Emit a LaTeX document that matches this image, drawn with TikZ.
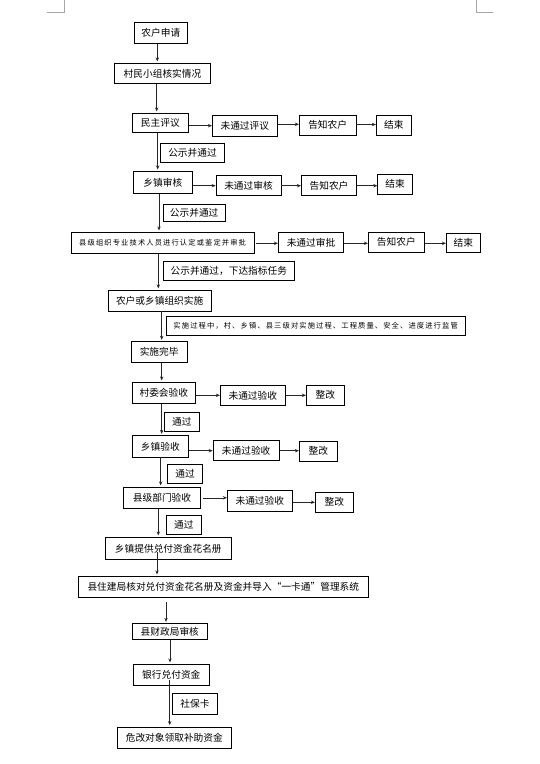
\documentclass[tikz,border=0pt]{standalone}
\usepackage{fontspec}
\newfontfamily\cjk{Noto Sans CJK SC}
\newfontfamily\cjks[LetterSpace=15]{Noto Sans CJK SC}
\usetikzlibrary{arrows.meta}
\begin{document}
\begin{tikzpicture}[x=1pt,y=-1pt,
  box/.style={draw=black, line width=0.8pt, inner sep=0pt, anchor=center,
    font=\cjk\fontsize{9.7}{11}\selectfont},
  smalltext/.style={font=\cjks\fontsize{7.3}{8}\selectfont},
  arr/.style={draw=black!85, line width=0.6pt, -{Stealth[length=4pt,width=3.4pt]}},
  varr/.style={arr, shorten >=1.5pt},
  cornermark/.style={draw=black!35, line width=0.6pt}
]
\useasboundingbox (0,0) rectangle (540,764);
\fill[white] (0,0) rectangle (540,764);

% corner marks
\coordinate (tlA) at (64.3,0);
\coordinate (tlB) at (64.3,12.3);
\coordinate (tlC) at (46.7,12.3);
\coordinate (trA) at (476.7,0);
\coordinate (trB) at (476.7,12.3);
\coordinate (trC) at (492.7,12.3);
\draw[cornermark] (tlA) -- (tlB) -- (tlC);
\draw[cornermark] (trA) -- (trB) -- (trC);

% main column
\node[box, minimum width=53pt, minimum height=20.6pt] (n1) at (160.8,33) {农户申请};
\node[box, minimum width=96.4pt, minimum height=20pt] (n2) at (162.5,73.3) {村民小组核实情况};
\node[box, minimum width=56pt, minimum height=19pt] (n3) at (160.3,122.8) {民主评议};
\node[box, minimum width=65pt, minimum height=20.3pt] (n3a) at (244.8,125.85) {未通过评议};
\node[box, minimum width=56.7pt, minimum height=19.7pt] (n3b) at (327.65,125.15) {告知农户};
\node[box, minimum width=35pt, minimum height=19.7pt] (n3c) at (393.8,125.15) {结束};
\node[box, minimum width=63.6pt, minimum height=19pt] (l1) at (192.5,152.8) {公示并通过};

\node[box, minimum width=59pt, minimum height=22pt] (n4) at (162.8,182.3) {乡镇审核};
\node[box, minimum width=65pt, minimum height=20pt] (n4a) at (248.5,185.7) {未通过审核};
\node[box, minimum width=55.4pt, minimum height=20pt] (n4b) at (329,185.7) {告知农户};
\node[box, minimum width=34.6pt, minimum height=19.7pt] (n4c) at (395,184.15) {结束};
\node[box, minimum width=62.3pt, minimum height=17.4pt] (l2) at (194.15,213) {公示并通过};

\node[box, smalltext, minimum width=183.3pt, minimum height=21pt] (n5) at (162.65,242.8) {县级组织专业技术人员进行认定或鉴定并审批};
\node[box, minimum width=65.4pt, minimum height=20pt] (n5a) at (311,242.3) {未通过审批};
\node[box, minimum width=56pt, minimum height=19.7pt] (n5b) at (396.3,242.15) {告知农户};
\node[box, minimum width=34pt, minimum height=19pt] (n5c) at (463.3,242.8) {结束};
\node[box, minimum width=131pt, minimum height=19.4pt] (l3) at (228.8,271) {公示并通过，下达指标任务};

\node[box, minimum width=102.7pt, minimum height=20.7pt] (n6) at (159.65,300.65) {农户或乡镇组织实施};
\node[box, smalltext, minimum width=299.3pt, minimum height=19pt] (l4) at (315.65,325.5) {实施过程中，村、乡镇、县三级对实施过程、工程质量、安全、进度进行监管};

\node[box, minimum width=56.3pt, minimum height=20.6pt] (n7) at (159.15,352) {实施完毕};

\node[box, minimum width=63pt, minimum height=21pt] (n8) at (163.8,392.8) {村委会验收};
\node[box, minimum width=65pt, minimum height=20pt] (n8a) at (252.8,395.3) {未通过验收};
\node[box, minimum width=38pt, minimum height=20pt] (n8b) at (325.3,395.3) {整改};
\node[box, minimum width=35pt, minimum height=18.7pt] (l5) at (181.8,421.65) {通过};

\node[box, minimum width=56pt, minimum height=21.3pt] (n9) at (160.3,446.35) {乡镇验收};
\node[box, minimum width=66.3pt, minimum height=20pt] (n9a) at (246.15,450.3) {未通过验收};
\node[box, minimum width=38pt, minimum height=20pt] (n9b) at (318.3,451) {整改};
\node[box, minimum width=35.4pt, minimum height=19pt] (l6) at (185,473.8) {通过};

\node[box, minimum width=77.4pt, minimum height=21pt] (n10) at (162,497.8) {县级部门验收};
\node[box, minimum width=65pt, minimum height=21pt] (n10a) at (259.8,500.8) {未通过验收};
\node[box, minimum width=38pt, minimum height=20pt] (n10b) at (334.3,502.3) {整改};
\node[box, minimum width=35pt, minimum height=19pt] (l7) at (183.8,524.8) {通过};

\node[box, minimum width=126pt, minimum height=22pt] (n11) at (168.3,548.3) {乡镇提供兑付资金花名册};
\node[box, minimum width=290pt, minimum height=21pt] (n12) at (223.3,586.8) {县住建局核对兑付资金花名册及资金并导入“一卡通”管理系统};
\node[box, minimum width=75pt, minimum height=15.6pt] (n13) at (169.8,631.5) {县财政局审核};
\node[box, minimum width=76pt, minimum height=21pt] (n14) at (171.3,674.8) {银行兑付资金};
\node[box, minimum width=44.6pt, minimum height=21pt] (l8) at (195,703.8) {社保卡};
\node[box, minimum width=114pt, minimum height=21pt] (n15) at (174.3,737.5) {危改对象领取补助资金};

% vertical arrows
\draw[varr] ([xshift=-3.5pt]n1.south) -- ([xshift=-3.5pt]n1.south |- n2.north);
\draw[varr] ([xshift=-5.8pt]n2.south) -- ([xshift=-5.8pt]n2.south |- n3.north);
\draw[varr] ([xshift=-2.6pt]n3.south) -- ([xshift=-2.6pt]n3.south |- n4.north);
\draw[varr] ([xshift=-3.8pt]n4.south) -- ([xshift=-3.8pt]n4.south |- n5.north);
\draw[varr] ([xshift=-4.35pt]n5.south) -- ([xshift=-4.35pt]n5.south |- n6.north);
\draw[varr] ([xshift=2.05pt]n6.south) -- ([xshift=2.05pt]n6.south |- n7.north);
\draw[varr] ([xshift=2.55pt]n7.south) -- ([xshift=2.55pt]n7.south |- n8.north);
\draw[varr] ([xshift=-2.1pt]n8.south) -- ([xshift=-2.1pt]n8.south |- n9.north);
\draw[varr] ([xshift=0.4pt]n9.south) -- ([xshift=0.4pt]n9.south |- n10.north);
\draw[varr] ([xshift=-3.7pt]n10.south) -- ([xshift=-3.7pt]n10.south |- n11.north);
\draw[varr] ([xshift=-11.3pt,yshift=7.6pt]n11.south) -- ([xshift=-11.3pt]n11.south |- n12.north);
\draw[varr] ([xshift=-57.3pt,yshift=-4.4pt]n12.south) -- ([xshift=-57.3pt]n12.south |- n13.north);
\draw[varr] ([xshift=0.2pt]n13.south) -- ([xshift=0.2pt]n13.south |- n14.north);
\draw[varr] ([xshift=-1.6pt,yshift=5.3pt]n14.south) -- ([xshift=-1.6pt]n14.south |- n15.north);

% horizontal arrows
\draw[arr] ([yshift=-2.9pt]n3.east) -- ([yshift=-2.9pt]n3.east -| n3a.west);
\draw[arr] ([yshift=1.55pt]n3a.east) -- ([yshift=1.55pt]n3a.east -| n3b.west);
\draw[arr] ([yshift=0.65pt]n3b.east) -- ([yshift=0.65pt]n3b.east -| n3c.west);

\draw[arr] ([yshift=-3.4pt]n4.east) -- ([yshift=-3.4pt]n4.east -| n4a.west);
\draw[arr] (n4a.east) -- (n4a.east -| n4b.west);
\draw[arr] (n4b.east) -- (n4b.east -| n4c.west);

\draw[arr] ([xshift=1pt,yshift=-0.5pt]n5.east) -- ([yshift=-0.5pt]n5.east -| n5a.west);
\draw[arr] ([yshift=-1pt]n5a.east) -- ([yshift=-1pt]n5a.east -| n5b.west);
\draw[arr] ([yshift=-1.15pt]n5b.east) -- ([yshift=-1.15pt]n5b.east -| n5c.west);

\draw[arr] ([yshift=-2.5pt]n8.east) -- ([yshift=-2.5pt]n8.east -| n8a.west);
\draw[arr] (n8a.east) -- (n8a.east -| n8b.west);

\draw[arr] ([yshift=-4.35pt]n9.east) -- ([yshift=-4.35pt]n9.east -| n9a.west);
\draw[arr] ([yshift=-0.4pt]n9a.east) -- ([yshift=-0.4pt]n9a.east -| n9b.west);

\draw[arr] ([xshift=1.6pt]n10.east) -- (n10.east -| n10a.west);
\draw[arr] ([yshift=-1.5pt]n10a.east) -- ([yshift=-1.5pt]n10a.east -| n10b.west);
\end{tikzpicture}
\end{document}
